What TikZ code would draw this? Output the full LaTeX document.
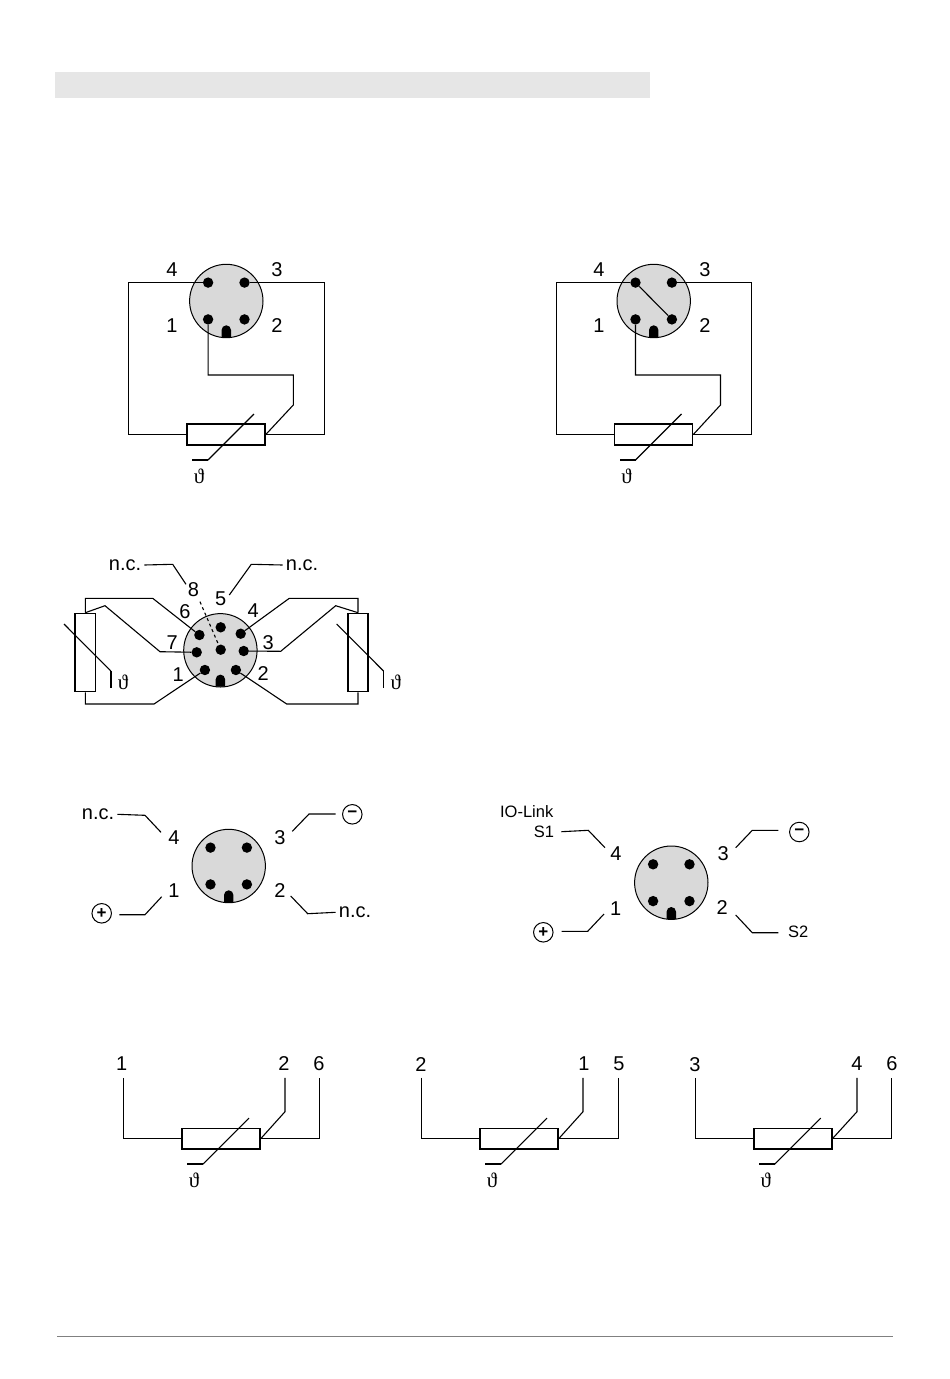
\documentclass[tikz,border=0pt]{standalone}
\usepackage{fontspec}
\setmainfont{Liberation Sans}
\newfontfamily\thetafont{Liberation Serif}
\tikzset{
  wire/.style={line width=1.1pt},
  tail/.style={line width=1.7pt},
  contact/.style={circle,fill=black,inner sep=0pt,minimum size=10.4pt},
  plugbody/.style={circle,draw=black,line width=1pt,fill=plugfill,inner sep=0pt,minimum size=73.4pt},
  resh/.style={draw=black,line width=1.6pt,fill=white,inner sep=0pt,minimum width=78pt,minimum height=20.5pt},
  resv/.style={draw=black,line width=1.6pt,fill=white,inner sep=0pt,minimum width=20.5pt,minimum height=78pt},
  numlabel/.style={inner sep=2pt,font=\fontsize{20}{22}\selectfont},
  nclabel/.style={inner sep=3pt,font=\fontsize{20}{22}\selectfont},
  smalllabel/.style={inner sep=7pt,font=\fontsize{16.5}{18}\selectfont},
  thetalabel/.style={inner sep=0pt,font=\thetafont\fontsize{21}{22}\selectfont},
  signcircle/.style={circle,draw=black,line width=1pt,inner sep=0pt,minimum size=19.5pt,font=\fontsize{17}{18}\selectfont\bfseries},
  plugfour/.pic={
    \node[plugbody] (-body) at (0,0) {};
    \fill (-4.7,36.4) -- (-4.7,29) arc (180:360:4.7) -- (4.7,36.4) -- cycle;
    \node[contact] (-p1) at (-18.2,18.4) {};
    \node[contact] (-p2) at (18.2,18.4) {};
    \node[contact] (-p3) at (18.2,-18.4) {};
    \node[contact] (-p4) at (-18.2,-18.4) {};
  },
  plugeight/.pic={
    \node[plugbody] (-body) at (0,0) {};
    \fill (-4.7,36.4) -- (-4.7,29) arc (180:360:4.7) -- (4.7,36.4) -- cycle;
    \foreach \n/\px/\py in {1/-15.5/19.7,2/15.5/19.7,3/23.3/0.7,4/20.3/-16.6,5/0.3/-23,6/-21/-15.3,7/-23.7/2,8/0.3/-0.6}
      \node[contact] (-p\n) at (\px,\py) {};
  },
  thermoh/.pic={
    \node[resh] (-body) at (0,0) {};
    \draw[wire] (28,-20.5) -- (-18,25.5);
    \draw[tail] (-18,25.5) -- (-34,25.5);
    \node[thetalabel] (-theta) at (-27,42) {ϑ};
  },
  thermov/.pic={
    \node[resv] (-body) at (0,0) {};
    \draw[wire] (-21.3,-28.5) -- (25.5,18.5);
    \draw[tail] (25.5,18.5) -- (25.5,35.5);
    \node[thetalabel] (-theta) at (37.7,29.5) {ϑ};
  }
}
\definecolor{plugfill}{HTML}{D9D9D9}
\definecolor{bandfill}{HTML}{E6E6E6}
\begin{document}
\begin{tikzpicture}[x=1pt,y=-1pt]
  \useasboundingbox (0,0) rectangle (950,1379);
  \fill[bandfill] (55,72) rectangle (650,98); % title band
  \draw[gray,line width=0.9pt] (57,1336) -- (893,1336);

  % first plug
  \pic (plugA) at (226.3,301) {plugfour};
  \pic (thermA) at (226,434.5) {thermoh};
  \node[numlabel] (labA4) at (172,270) {4};
  \node[numlabel] (labA3) at (277,270) {3};
  \node[numlabel] (labA1) at (172,326) {1};
  \node[numlabel] (labA2) at (277,326) {2};
  \draw[wire] (plugA-p4) -- (128.5,282.6) |- (thermA-body);
  \draw[wire] (plugA-p3) -- (324.4,282.6) |- (thermA-body);
  \draw[wire] (plugA-p1) |- (293.3,375) -- (293.3,405) -- (thermA-body.east);

  % second plug, 2 and 4 bridged
  \pic (plugB) at (653.7,301) {plugfour};
  \pic (thermB) at (653.5,434.5) {thermoh};
  \node[numlabel] (labB4) at (599,270) {4};
  \node[numlabel] (labB3) at (705,270) {3};
  \node[numlabel] (labB1) at (599,326) {1};
  \node[numlabel] (labB2) at (705,326) {2};
  \draw[wire] (plugB-p4) -- (556.3,282.6) |- (thermB-body);
  \draw[wire] (plugB-p3) -- (751.3,282.6) |- (thermB-body);
  \draw[wire] (plugB-p1) |- (720.5,375) -- (720.5,405) -- (thermB-body.east);
  \draw[wire] (plugB-p4) -- (plugB-p2);

  % eight pin plug
  \pic (plugC) at (220.4,650.3) {plugeight};
  \pic (thermL) at (85.3,652.5) {thermov};
  \pic (thermR) at (358,652.5) {thermov};
  \node[numlabel] (labC8) at (193.5,590) {8};
  \node[numlabel] (labC5) at (220.7,598.3) {5};
  \node[numlabel] (labC6) at (185,611.7) {6};
  \node[numlabel] (labC4) at (253.3,610.7) {4};
  \node[numlabel] (labC7) at (172.3,642.3) {7};
  \node[numlabel] (labC3) at (268.3,642.3) {3};
  \node[numlabel] (labC1) at (178.3,675) {1};
  \node[numlabel] (labC2) at (263.3,673.3) {2};
  \node[nclabel] (ncL) at (125,565) {n.c.};
  \node[nclabel] (ncR) at (302,565) {n.c.};
  \coordinate (end8) at (186,584.3);
  \coordinate (end5) at (229.3,595);
  \coordinate (dash8) at (200,601.7);
  \draw[wire] (ncL.east) -- (172.7,564.3) -- (end8);
  \draw[wire] (ncR.west) -- (251.3,564.3) -- (end5);
  \draw[wire,dashed] (dash8) -- (plugC-p8);
  \draw[wire] (plugC-p6) -- (152.7,598.3) -- (85.3,598.3) -- (thermL-body.north);
  \draw[wire] (plugC-p7) -- (160,651.7) -- (105,605.7) -- (thermL-body.north);
  \draw[wire] (plugC-p1) -- (154,704) -- (85.3,704) -- (thermL-body.south);
  \draw[wire] (plugC-p4) -- (289.3,598.3) -- (358,598.3) -- (thermR-body.north);
  \draw[wire] (plugC-p3) -- (280.7,651.3) -- (335.7,605.7) -- (thermR-body.north);
  \draw[wire] (plugC-p2) -- (286.7,704) -- (358,704) -- (thermR-body.south);

  % third plug
  \pic (plugD) at (228.7,866) {plugfour};
  \node[numlabel] (labD4) at (174,837.7) {4};
  \node[numlabel] (labD3) at (280,837.7) {3};
  \node[numlabel] (labD1) at (174,891) {1};
  \node[numlabel] (labD2) at (280,891) {2};
  \node[nclabel] (ncD4) at (98,814.3) {n.c.};
  \node[nclabel] (ncD2) at (355,912.3) {n.c.};
  \node[signcircle] (plusD) at (101.7,913.3) {+};
  \node[signcircle] (minusD) at (352.3,814.3) {\textminus};
  \coordinate (endD4) at (161,832.3);
  \coordinate (endD1) at (161.7,896.7);
  \coordinate (endD3) at (292.3,831.3);
  \coordinate (endD2) at (290.7,896);
  \coordinate (startD1) at (119.3,914.7);
  \coordinate (startD3) at (335.7,814);
  \draw[wire] (ncD4.east) -- (145,815.3) -- (endD4);
  \draw[wire] (startD1) -- (145,914.7) -- (endD1);
  \draw[wire] (startD3) -- (309,814) -- (endD3);
  \draw[wire] (ncD2.west) -- (307.7,913.7) -- (endD2);

  % fourth plug
  \pic (plugE) at (671.3,882.7) {plugfour};
  \node[numlabel] (labE4) at (616,853.3) {4};
  \node[numlabel] (labE3) at (723.3,853.3) {3};
  \node[numlabel] (labE1) at (615.7,908.3) {1};
  \node[numlabel] (labE2) at (722.3,907.7) {2};
  \node[smalllabel] (iolink) at (526.7,811.7) {IO-Link};
  \node[smalllabel] (sigS1) at (544,831.7) {S1};
  \node[smalllabel] (sigS2) at (798.3,931.7) {S2};
  \node[signcircle] (plusE) at (543.3,932.3) {+};
  \node[signcircle] (minusE) at (799.3,832) {\textminus};
  \coordinate (endE4) at (605,847.7);
  \coordinate (endE1) at (604,914);
  \coordinate (endE3) at (735.7,847.7);
  \coordinate (endE2) at (735.7,915);
  \coordinate (startE1) at (561.7,931.3);
  \coordinate (startE3) at (778.3,830.3);
  \coordinate (startE2) at (778.3,932.7);
  \draw[wire] (sigS1.east) -- (588.3,830.3) -- (endE4);
  \draw[wire] (startE1) -- (587.7,931.3) -- (endE1);
  \draw[wire] (startE3) -- (752.3,830.3) -- (endE3);
  \draw[wire] (startE2) -- (752.3,932.7) -- (endE2);

  % sensors, three wire
  \pic (thermF) at (221,1138.6) {thermoh};
  \node[numlabel] (labF1) at (121.7,1063.3) {1};
  \node[numlabel] (labF2) at (284,1063.3) {2};
  \node[numlabel] (labF6) at (319,1063.3) {6};
  \draw[wire] (labF1.south) ++(1.6,5.5) |- (thermF-body);
  \draw[wire] (labF6.south) ++(0.3,5.5) |- (thermF-body);
  \draw[wire] (labF2.south) ++(1,5.5) -- (285,1111.7) -- (thermF-body.east);

  \pic (thermG) at (519,1138.6) {thermoh};
  \node[numlabel] (labG2) at (421,1065) {2};
  \node[numlabel] (labG1) at (584,1063.3) {1};
  \node[numlabel] (labG5) at (619,1063.3) {5};
  \draw[wire] (labG2.south) ++(0.4,3.5) |- (thermG-body);
  \draw[wire] (labG5.south) ++(-0.6,5.5) |- (thermG-body);
  \draw[wire] (labG1.south) ++(-1,5.5) -- (583,1111.7) -- (thermG-body.east);

  \pic (thermH) at (792.7,1138.6) {thermoh};
  \node[numlabel] (labH3) at (695,1065) {3};
  \node[numlabel] (labH4) at (857,1063.3) {4};
  \node[numlabel] (labH6) at (892,1063.3) {6};
  \draw[wire] (labH3.south) ++(0.4,3.5) |- (thermH-body);
  \draw[wire] (labH6.south) ++(-0.6,5.5) |- (thermH-body);
  \draw[wire] (labH4.south) ++(0,5.5) -- (857,1111.7) -- (thermH-body.east);
\end{tikzpicture}
\end{document}
